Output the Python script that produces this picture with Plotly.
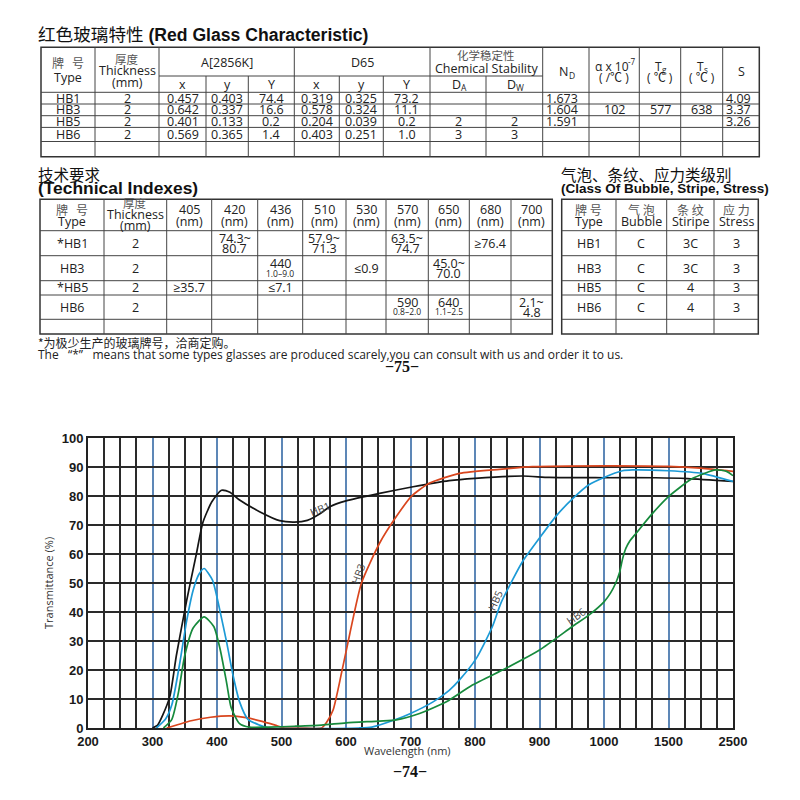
import plotly.graph_objects as go

# ---------------- spectral curves (wavelength nm, transmittance %) ----------------
hb1_wl = [300, 308, 316, 327, 337, 353, 368, 378, 392, 407, 420, 435, 466, 497, 520, 540, 559, 575, 600, 652, 704, 760, 800, 874, 915, 1000, 1400, 1800, 2500]
hb1_t = [0, 1, 4.5, 11, 25, 44, 60, 70.8, 78, 82, 81.3, 78.6, 74.6, 71.5, 71, 71.6, 73.8, 76.3, 78.3, 80.9, 83.2, 85.3, 86.1, 86.9, 86.4, 86.3, 86.3, 86, 85]

hb3_wl = [322, 340, 360, 390, 420, 445, 470, 490, 505, 530, 562, 570, 580, 593, 606, 624, 652, 678, 701, 729, 776, 838, 889, 1000, 1500, 2000, 2500]
hb3_t = [0, 1.2, 2.5, 3.7, 4.2, 3.6, 2.3, 1.0, 0, 0, 0, 2, 6.2, 18.9, 32.6, 50, 63.7, 72.9, 79.8, 84.4, 87.8, 89.2, 90.1, 90.4, 90.2, 89.6, 88.5]

hb5_wl = [306, 320, 330, 342, 353, 363, 372, 380, 393, 404, 415, 425, 435, 448, 466, 480, 620, 640, 678, 700, 735, 760, 776, 802, 827, 840, 858, 874, 900, 925, 951, 976, 1000, 1143, 1220, 1500, 2020, 2500]
hb5_t = [0, 3, 8, 22, 37, 47.5, 53, 55, 51, 41, 29.5, 18, 9, 3, 1, 0, 0, 0.3, 3, 5, 9, 13, 16.6, 24, 35, 43, 51, 57.5, 65.5, 72.9, 79, 83.8, 86.4, 88.7, 89, 88.7, 87.8, 85]

hb6_wl = [317, 330, 340, 350, 363, 380, 395, 405, 415, 422, 435, 450, 480, 520, 562, 600, 652, 678, 714, 745, 760, 796, 848, 900, 951, 977, 1000, 1050, 1091, 1120, 1145, 1170, 1200, 1246, 1376, 1500, 1870, 2230, 2400, 2500]
hb6_t = [0, 3, 12, 25, 34.5, 38.3, 35, 27, 15.5, 7, 1.5, 0.3, 0.3, 0.6, 1, 1.8, 2.4, 2.8, 5, 7.9, 9.6, 14.8, 20.6, 26.9, 35, 39, 43.5, 46.5, 50, 53.5, 58.5, 62, 64.5, 67, 74, 79.8, 86, 89, 88.5, 87]

curve_names = ["HB1", "HB3", "HB5", "HB6"]
curve_colors = ["#151515", "#d9461e", "#1c9ad6", "#168a3c"]
label_wl = [560, 620, 832, 957]
label_t = [75.4, 53.3, 44.1, 38.5]
label_angle = [-22, -70, -66, -35]

tick_wl = [200, 300, 400, 500, 600, 700, 800, 900, 1000, 1500, 2500]
tick_labels = [str(v) for v in tick_wl]

# ---------------- table 1 : Red Glass Characteristic ----------------
t1_type = ["HB1", "HB3", "HB5", "HB6"]
t1_thick = ["2", "2", "2", "2"]
t1_a_x = ["0.457", "0.642", "0.401", "0.569"]
t1_a_y = ["0.403", "0.337", "0.133", "0.365"]
t1_a_Y = ["74.4", "16.6", "0.2", "1.4"]
t1_d_x = ["0.319", "0.578", "0.204", "0.403"]
t1_d_y = ["0.325", "0.324", "0.039", "0.251"]
t1_d_Y = ["73.2", "11.1", "0.2", "1.0"]
t1_DA = ["", "", "2", "3"]
t1_DW = ["", "", "2", "3"]
t1_ND = ["1.673", "1.604", "1.591", ""]
t1_alpha = ["", "102", "", ""]
t1_Tg = ["", "577", "", ""]
t1_Ts = ["", "638", "", ""]
t1_S = ["4.09", "3.37", "3.26", ""]

# ---------------- table 2 : Technical Indexes ----------------
t2_type = ["*HB1", "HB3", "*HB5", "HB6"]
t2_thick = ["2", "2", "2", "2"]
t2_wl = ["405", "420", "436", "510", "530", "570", "650", "680", "700"]
t2_405 = ["", "", "≥35.7", ""]
t2_420 = ["74.3~\n80.7", "", "", ""]
t2_436 = ["", "440\n1.0–9.0", "≤7.1", ""]
t2_510 = ["57.9~\n71.3", "", "", ""]
t2_530 = ["", "≤0.9", "", ""]
t2_570 = ["63.5~\n74.7", "", "", "590\n0.8–2.0"]
t2_650 = ["", "45.0~\n70.0", "", "640\n1.1–2.5"]
t2_680 = ["≥76.4", "", "", ""]
t2_700 = ["", "", "", "2.1~\n4.8"]

# ---------------- table 3 : Class of bubble, stripe, stress ----------------
t3_type = ["HB1", "HB3", "HB5", "HB6"]
t3_bubble = ["C", "C", "C", "C"]
t3_stripe = ["3C", "3C", "4", "4"]
t3_stress = ["3", "3", "3", "3"]

# ======================================================================
W, H = 800, 800
BODY = "Open Sans, Noto Sans CJK SC, sans-serif"
CJK = "Noto Sans CJK SC, sans-serif"
HEAD = "Liberation Sans, Noto Sans CJK SC, sans-serif"


def px(x):
    return x / W


def py(y):
    return 1 - y / H


shapes = []
annots = []


def hline(x0, x1, y, w=1.0, color="#444"):
    shapes.append(dict(type="line", xref="paper", yref="paper", x0=px(x0), x1=px(x1),
                       y0=py(y), y1=py(y), line=dict(color=color, width=w)))


def vline(x, y0, y1, w=1.0, color="#444"):
    shapes.append(dict(type="line", xref="paper", yref="paper", x0=px(x), x1=px(x),
                       y0=py(y0), y1=py(y1), line=dict(color=color, width=w)))


def box(x0, y0, x1, y1, w=1.5):
    shapes.append(dict(type="rect", xref="paper", yref="paper", x0=px(x0), x1=px(x1),
                       y0=py(y1), y1=py(y0), line=dict(color="#333", width=w)))


def text(x, y, s, size=12.5, color="#222", family=BODY, xanchor="center", weight=None):
    f = dict(size=size, color=color, family=family)
    if weight:
        f["weight"] = weight
    annots.append(dict(xref="paper", yref="paper", x=px(x), y=py(y), text=s, showarrow=False,
                       xanchor=xanchor, yanchor="middle", borderpad=0, font=f))


def indexed(xc, y, main, idx, main_w, idx_w, size=12.5, dy=3.5):
    """main symbol followed by a smaller sub/superscript drawn as its own text"""
    x0 = xc - (main_w + idx_w) / 2
    text(x0, y, main, size, xanchor="left")
    text(x0 + main_w, y + dy, idx, size * 0.68, xanchor="left")


def cell(xc, yc, s, size=12.5):
    if not s:
        return
    lines = s.split("\n")
    if len(lines) == 1:
        text(xc, yc, s, size)
    else:
        small = "–" in lines[1]
        text(xc, yc - 5, lines[0], size)
        text(xc, yc + (4.8 if small else 5.5), lines[1], 8.5 if small else size)


def mid(a, b):
    return (a + b) / 2


# ---------------- Table 1 ----------------
text(37, 35, "红色玻璃特性 <b>(Red Glass Characteristic)</b>", size=17.6, color="#111",
     family=HEAD, xanchor="left")
c1 = [41, 95, 159, 206, 248.3, 294.3, 339.3, 383.3, 430, 486, 542.7, 589, 639.3, 680.7, 722.7, 759.3]
r1 = [47.3, 76, 92.3, 104, 115.7, 127.4, 141.5, 156.7]
box(c1[0], r1[0], c1[-1], r1[-1])
for x in c1[1:-1]:
    if x in (206, 248.3, 339.3, 383.3, 486):
        vline(x, r1[1], r1[-1])
    else:
        vline(x, r1[0], r1[-1])
hline(c1[2], c1[10], r1[1])
for y in r1[2:-1]:
    hline(c1[0], c1[-1], y)

GRAY = "#555"
text(mid(c1[0], c1[1]), 63, "牌   号", 12, GRAY, CJK)
text(mid(c1[0], c1[1]), 77.3, "Type", 12.5)
text(mid(c1[1], c1[2]), 59.3, "厚度", 11.5, GRAY, CJK)
text(mid(c1[1], c1[2]), 70.5, "Thickness", 12.5)
text(mid(c1[1], c1[2]), 82, "(mm)", 12.5)
text(mid(c1[2], c1[5]), 62, "A[2856K]", 12.5)
text(mid(c1[5], c1[8]), 62, "D65", 12.5)
text(mid(c1[8], c1[10]), 55, "化学稳定性", 11.5, GRAY, CJK)
text(mid(c1[8], c1[10]), 68.3, "Chemical Stability", 12.5)
for i, s in enumerate(["x", "y", "Y", "x", "y", "Y"]):
    text(mid(c1[2 + i], c1[3 + i]), 84.3, s, 12.5)
indexed(mid(c1[8], c1[9]), 84.3, "D", "A", 9, 5.5)
indexed(mid(c1[9], c1[10]), 84.3, "D", "W", 9, 7.5)
indexed(mid(c1[10], c1[11]), 72, "N", "D", 9.5, 6)
indexed(mid(c1[11], c1[12]), 66, "α x 10", "-7", 33, 7, size=12, dy=-4.5)
text(mid(c1[11], c1[12]), 77.5, "( /℃ )", 12)
indexed(mid(c1[12], c1[13]), 66, "T", "g", 7, 5, size=12)
text(mid(c1[12], c1[13]), 77.5, "( ℃ )", 12)
indexed(mid(c1[13], c1[14]), 66, "T", "s", 7, 4.5, size=12)
text(mid(c1[13], c1[14]), 77.5, "( ℃ )", 12)
text(mid(c1[14], c1[15]), 72, "S", 12.5)

t1_columns = [t1_type, t1_thick, t1_a_x, t1_a_y, t1_a_Y, t1_d_x, t1_d_y, t1_d_Y,
              t1_DA, t1_DW, t1_ND, t1_alpha, t1_Tg, t1_Ts, t1_S]
left_cols = {10, 14}
for ci, col in enumerate(t1_columns):
    for ri, v in enumerate(col):
        yc = mid(r1[2 + ri], r1[3 + ri])
        if not v:
            continue
        if ci in left_cols:
            text(c1[ci] + 2, yc, v, 12.5, xanchor="left")
        else:
            text(mid(c1[ci], c1[ci + 1]), yc, v, 12.5)

# ---------------- Table 2 ----------------
text(37, 174, "技术要求", 15.5, "#111", CJK, xanchor="left")
text(37, 188.5, "<b>(Technical Indexes)</b>", 17.4, "#111", HEAD, xanchor="left")
c2 = [40, 104, 166.7, 211.7, 257.7, 302.7, 346, 386, 428.3, 469.3, 511, 552.3]
r2 = [199.3, 230.7, 255.7, 280.7, 295, 319.3, 334]
box(c2[0], r2[0], c2[-1], r2[-1])
for x in c2[1:-1]:
    vline(x, r2[0], r2[-1])
for y in r2[1:-1]:
    hline(c2[0], c2[-1], y)
text(mid(c2[0], c2[1]), 209.3, "牌   号", 12, GRAY, CJK)
text(mid(c2[0], c2[1]), 221.7, "Type", 12.5)
text(mid(c2[1], c2[2]), 203.3, "厚度", 11.5, GRAY, CJK)
text(mid(c2[1], c2[2]), 214.3, "Thickness", 12.5)
text(mid(c2[1], c2[2]), 225.3, "(mm)", 12.5)
for i, wl in enumerate(t2_wl):
    text(mid(c2[2 + i], c2[3 + i]), 209.3, wl, 12.5)
    text(mid(c2[2 + i], c2[3 + i]), 221.7, "(nm)", 12.5)
t2_columns = [t2_type, t2_thick, t2_405, t2_420, t2_436, t2_510, t2_530, t2_570, t2_650, t2_680, t2_700]
for ci, col in enumerate(t2_columns):
    for ri, v in enumerate(col):
        cell(mid(c2[ci], c2[ci + 1]), mid(r2[1 + ri], r2[2 + ri]), v)

# ---------------- Table 3 ----------------
text(560, 174, "气泡、条纹、应力类级别", 15.5, "#111", CJK, xanchor="left")
text(560, 188.5, "<b>(Class Of Bubble, Stripe, Stress)</b>", 13.5,
     "#111", "Liberation Sans Narrow, Liberation Sans, sans-serif", xanchor="left")
c3 = [561.7, 616, 666.7, 714, 758.3]
r3 = r2
box(c3[0], r3[0], c3[-1], r3[-1])
for x in c3[1:-1]:
    vline(x, r3[0], r3[-1])
for y in r3[1:-1]:
    hline(c3[0], c3[-1], y)
for i, (zh, en) in enumerate([("牌 号", "Type"), ("气 泡", "Bubble"), ("条 纹", "Stiripe"), ("应 力", "Stress")]):
    text(mid(c3[i], c3[i + 1]), 209.3, zh, 12, GRAY, CJK)
    text(mid(c3[i], c3[i + 1]), 221.7, en, 12.5)
for ci, col in enumerate([t3_type, t3_bubble, t3_stripe, t3_stress]):
    for ri, v in enumerate(col):
        cell(mid(c3[ci], c3[ci + 1]), mid(r3[1 + ri], r3[2 + ri]), v)

# ---------------- footnotes and page numbers ----------------
text(37, 342, "*为极少生产的玻璃牌号，洽商定购。", 12, "#222", CJK, xanchor="left")
text(37, 354, "The   “*”   means that some types glasses are produced scarely,you can consult with us and order it to us.",
     12, "#222", BODY, xanchor="left")
text(402, 366, "−75−", 16, "#111", "Liberation Serif, serif", weight="bold")
text(410, 771, "−74−", 16, "#111", "Liberation Serif, serif", weight="bold")

# axis titles
text(48, 583, "Transmittance (%)", 11, "#333", BODY)
annots[-1]["textangle"] = -90
text(407, 750, "Wavelength (nm)", 11, "#333", BODY)


# ---------------- chart ----------------
def wl_to_u(w):
    if w <= 1000:
        return (w - 200) / 100
    if w <= 1500:
        return 8 + (w - 1000) / 500
    return 9 + (w - 1500) / 1000


fig = go.Figure()
series = [(hb1_wl, hb1_t), (hb3_wl, hb3_t), (hb5_wl, hb5_t), (hb6_wl, hb6_t)]
for (wl, t), name, colr in zip(series, curve_names, curve_colors):
    fig.add_trace(go.Scatter(x=[wl_to_u(w) for w in wl], y=t, mode="lines", name=name,
                             line=dict(color=colr, width=1.7, shape="spline", smoothing=0.6),
                             hoverinfo="skip"))

for name, lw, lt, ang in zip(curve_names, label_wl, label_t, label_angle):
    annots.append(dict(xref="x", yref="y", x=wl_to_u(lw), y=lt, text=name, showarrow=False,
                       textangle=ang, font=dict(size=10.5, color="#444", family=BODY)))

tickfont = dict(family="Liberation Sans, Arial, sans-serif", size=13, color="#1a1a1a", weight="bold")
fig.update_layout(
    width=W, height=H, autosize=False,
    margin=dict(l=0, r=0, t=0, b=0, pad=0, autoexpand=False),
    paper_bgcolor="white", plot_bgcolor="white",
    showlegend=False,
    shapes=shapes, annotations=annots,
    xaxis=dict(domain=[px(88), px(733)], range=[0, 10], tickmode="array", automargin=False,
               tickvals=list(range(11)), ticktext=tick_labels,
               showgrid=True, gridcolor="#5d87b7", gridwidth=1.5,
               minor=dict(dtick=0.25, tick0=0, showgrid=True, gridcolor="#2a2a2a", gridwidth=1.6),
               showline=True, linecolor="#222", linewidth=2, mirror=True,
               ticks="", zeroline=False, tickfont=tickfont),
    yaxis=dict(domain=[py(728), py(438)], range=[0, 100], dtick=10, automargin=False,
               showgrid=True, gridcolor="#2a2a2a", gridwidth=1.6,
               showline=True, linecolor="#222", linewidth=2, mirror=True,
               ticks="", zeroline=False, tickfont=tickfont),
)

fig.write_html(
    "out.html",
    config={"displayModeBar": False},
    post_script="document.body.style.margin='0';document.body.style.overflow='hidden';"
                "document.documentElement.style.overflow='hidden';",
)
